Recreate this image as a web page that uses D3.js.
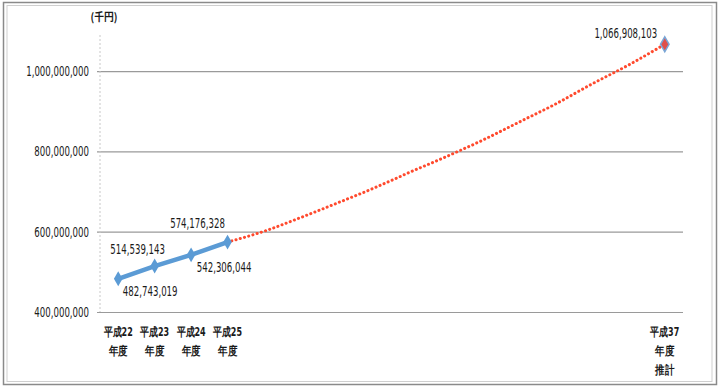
<!DOCTYPE html>
<html>
<head>
<meta charset="utf-8">
<script src="https://cdn.jsdelivr.net/npm/d3@7"></script>
<style>
  body { margin: 0; background: #fff; }
  text { font-family: "Liberation Sans Narrow", "DejaVu Sans Condensed", sans-serif; fill: #1a1a1a; }
  .jp { font-family: "Noto Sans CJK JP", sans-serif; }
</style>
</head>
<body>
<div id="chart"></div>
<script>
const svgwidth = 723;
const svgheight = 388;

// categories: fiscal years H22 .. H37
var years = ["平成22", "平成23", "平成24", "平成25", "平成26", "平成27", "平成28", "平成29",
  "平成30", "平成31", "平成32", "平成33", "平成34", "平成35", "平成36", "平成37"];
// which years get a label under the axis
var shownYears = ["平成22", "平成23", "平成24", "平成25", "平成37"];
// actual values (千円)
var actualYears = ["平成22", "平成23", "平成24", "平成25"];
var actualValues = [482743019, 514539143, 542306044, 574176328];
// projected curve
var projYears = ["平成25", "平成26", "平成27", "平成28", "平成29", "平成30", "平成31",
  "平成32", "平成33", "平成34", "平成35", "平成36", "平成37"];
var projValues = [574176328, 601000000, 635000000, 671000000, 708000000, 748000000, 787000000,
  828000000, 873000000, 918000000, 968000000, 1015000000, 1066908103];
var yTicks = [400000000, 600000000, 800000000, 1000000000];

var margin = {top: 31, right: 40, bottom: 76, left: 100};
var width = svgwidth - margin.left - margin.right;
var height = svgheight - margin.top - margin.bottom;

var fmt = d3.format(",");
// narrow number width, like the condensed font of the scan
var numLen = s => s.replace(/,/g, "").length * 5.5 + (s.match(/,/g) || []).length * 2.6;

var svg = d3.select("#chart")
  .append("svg")
  .attr("width", svgwidth)
  .attr("height", svgheight);

// scanned frame round the chart
svg.append("rect")
  .attr("x", 3.5).attr("y", 2.5)
  .attr("width", 713).attr("height", 382)
  .attr("fill", "none")
  .attr("stroke", "#8a8a8a")
  .attr("stroke-width", 1.5);
svg.append("rect")
  .attr("x", 7).attr("y", 5.5)
  .attr("width", 705).attr("height", 376)
  .attr("fill", "none")
  .attr("stroke", "#cfcfcf")
  .attr("stroke-width", 1);

var g = svg.append("g")
  .attr("transform", `translate(${margin.left}, ${margin.top})`);

var x = d3.scaleBand()
  .domain(years)
  .range([0, width]);

var y = d3.scaleLinear()
  .domain([400000000, 1100000000])
  .range([height, 0]);

var cx = d => x(d) + x.bandwidth() / 2;

// gridlines + left labels
var left = d3.axisLeft(y)
  .tickValues(yTicks)
  .tickSize(-width - 3)
  .tickPadding(8)
  .tickFormat(fmt);

g.append("g")
  .attr("transform", "translate(-3,0)")
  .call(left)
  .call(a => a.select(".domain").remove())
  .call(a => a.selectAll(".tick line").attr("stroke", "#9a9a9a").attr("stroke-width", 1.2))
  .call(a => a.selectAll(".tick text")
    .attr("font-size", 13.5)
    .attr("font-family", "Liberation Sans Narrow, DejaVu Sans Condensed, sans-serif")
    .attr("fill", "#1a1a1a")
    .attr("textLength", d => numLen(fmt(d)))
    .attr("lengthAdjust", "spacingAndGlyphs"));

// dashed vertical axis
g.append("line")
  .attr("x1", 0).attr("x2", 0)
  .attr("y1", 4).attr("y2", height)
  .attr("stroke", "#c8c8c8")
  .attr("stroke-dasharray", "2 2");

// unit label
svg.append("text")
  .attr("class", "jp")
  .attr("x", 104).attr("y", 21)
  .attr("text-anchor", "middle")
  .attr("font-size", 11)
  .attr("font-weight", "bold")
  .attr("textLength", 27)
  .attr("lengthAdjust", "spacingAndGlyphs")
  .text("(千円)");

// x labels (two or three lines)
var xl = g.append("g").attr("class", "jp");
shownYears.forEach(function(d) {
  var lines = [d, "年度"];
  if (d === "平成37") lines.push("推計");
  lines.forEach(function(t, i) {
    xl.append("text")
      .attr("x", cx(d))
      .attr("y", height + 24 + i * 19)
      .attr("text-anchor", "middle")
      .attr("font-size", 12)
      .attr("font-weight", "bold")
      .attr("textLength", t.length > 2 ? 29 : 19)
      .attr("lengthAdjust", "spacingAndGlyphs")
      .text(t);
  });
});

// projected dotted curve
var projData = projYears.map((d, i) => ({year: d, value: projValues[i]}));
var line = d3.line()
  .x(d => cx(d.year))
  .y(d => y(d.value))
  .curve(d3.curveMonotoneX);

g.append("path")
  .datum(projData)
  .attr("fill", "none")
  .attr("stroke", "#ff4a2e")
  .attr("stroke-width", 3)
  .attr("stroke-linecap", "round")
  .attr("stroke-dasharray", "0.1 4.3")
  .attr("d", line);

// actual line
var actualData = actualYears.map((d, i) => ({year: d, value: actualValues[i]}));
g.append("path")
  .datum(actualData)
  .attr("fill", "none")
  .attr("stroke", "#5b9bd5")
  .attr("stroke-width", 4.5)
  .attr("d", d3.line().x(d => cx(d.year)).y(d => y(d.value)));

var diamond = d3.symbol().type(d3.symbolDiamond).size(64);

g.selectAll(".pt")
  .data(actualData)
  .enter()
  .append("path")
  .attr("class", "pt")
  .attr("transform", d => `translate(${cx(d.year)}, ${y(d.value)})`)
  .attr("d", diamond)
  .attr("fill", "#5b9bd5");

// end point of projection
var last = projData[projData.length - 1];
g.append("path")
  .attr("transform", `translate(${cx(last.year)}, ${y(last.value)})`)
  .attr("d", diamond)
  .attr("fill", "#e0504a")
  .attr("stroke", "#7aa6d6")
  .attr("stroke-width", 1.5);

// value labels: offsets relative to each marker
var labelOffsets = [[32, 12], [-17, -17], [33, 12], [-30, -19]];
g.selectAll(".vl")
  .data(actualData)
  .enter()
  .append("text")
  .attr("class", "vl")
  .attr("x", (d, i) => cx(d.year) + labelOffsets[i][0])
  .attr("y", (d, i) => y(d.value) + labelOffsets[i][1])
  .attr("dy", "0.35em")
  .attr("text-anchor", "middle")
  .attr("font-size", 13.5)
  .attr("textLength", d => numLen(fmt(d.value)))
  .attr("lengthAdjust", "spacingAndGlyphs")
  .text(d => fmt(d.value));

g.append("text")
  .attr("x", cx(last.year) - 39)
  .attr("y", y(last.value) - 11)
  .attr("dy", "0.35em")
  .attr("text-anchor", "middle")
  .attr("font-size", 13.5)
  .attr("textLength", numLen(fmt(last.value)))
  .attr("lengthAdjust", "spacingAndGlyphs")
  .text(fmt(last.value));
</script>
</body>
</html>
